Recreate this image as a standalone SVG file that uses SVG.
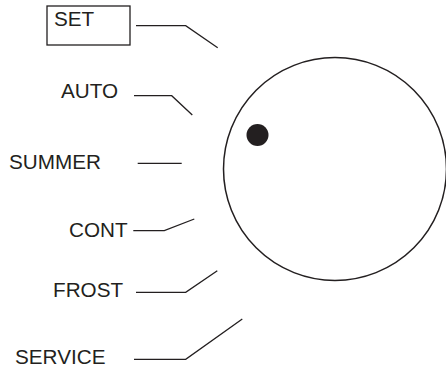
<svg xmlns="http://www.w3.org/2000/svg" width="446" height="374" viewBox="0 0 446 374">
<style>
text{font-family:"Liberation Sans",Arial,sans-serif;font-size:20.7px;fill:#231f20}
.c{fill:none;stroke:#231f20;stroke-width:1.3}
</style>
<rect width="446" height="374" fill="#fff"/>
<g id="knob">
<circle cx="335" cy="169" r="111.5" fill="none" stroke="#231f20" stroke-width="1.5"/>
<circle cx="257.5" cy="135" r="11" fill="#231f20"/>
</g>
<g id="set"><rect x="47" y="6" width="83" height="39" fill="none" stroke="#231f20" stroke-width="1.3"/><text x="54" y="26">SET</text></g>
<g id="auto"><text x="61" y="98">AUTO</text></g>
<g id="summer"><text x="9" y="169">SUMMER</text></g>
<g id="cont"><text x="69" y="237">CONT</text></g>
<g id="frost"><text x="53" y="297">FROST</text></g>
<g id="service"><text x="15" y="364">SERVICE</text></g>
<g id="connectors" class="c">
<polyline class="c" points="136,25.7 185.7,25.7 217.7,47.7"/>
<polyline class="c" points="134,95.7 171.7,95.7 192.3,115"/>
<polyline class="c" points="137.7,163.3 181.7,163.3"/>
<polyline class="c" points="133.3,230.7 164.3,230.7 194.3,219"/>
<polyline class="c" points="136,292.3 185.7,292.3 217.3,270.7"/>
<polyline class="c" points="134,359.3 185.7,359.3 242.3,319"/>
</g>
</svg>
